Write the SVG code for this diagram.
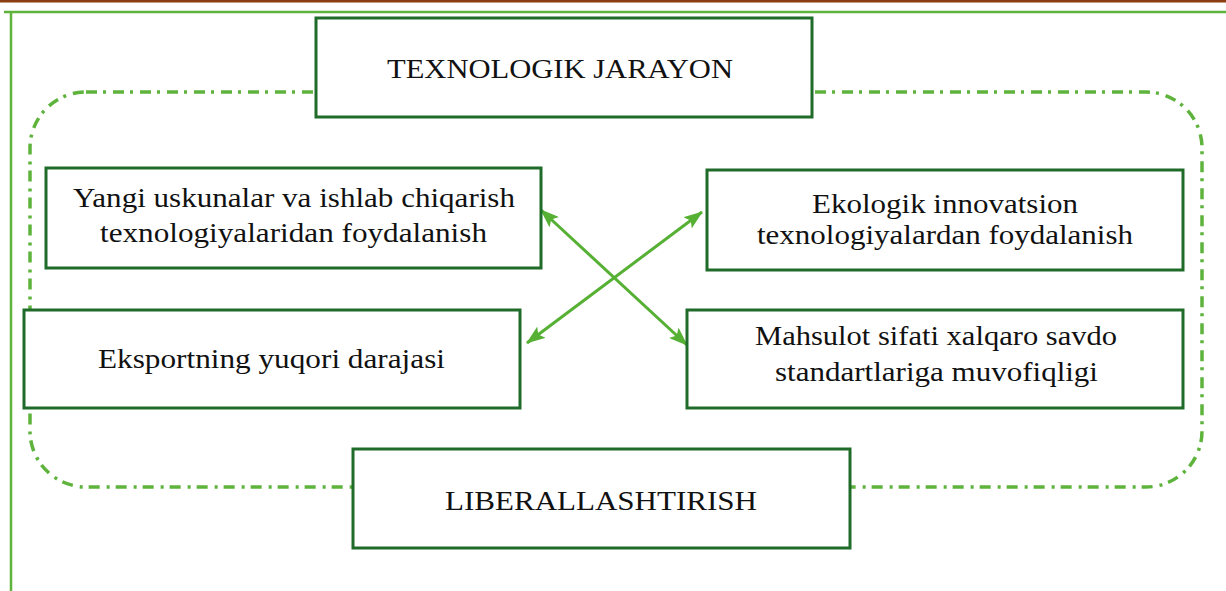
<svg xmlns="http://www.w3.org/2000/svg" width="1226" height="591" viewBox="0 0 1226 591">
  <style>
    .box { fill: #ffffff; stroke: #1f6b2a; stroke-width: 3; }
    .t { font-family: "Liberation Serif", "Times New Roman", serif; font-size: 27px; fill: #111111; text-anchor: start; }
    .conn { stroke: #55b034; stroke-width: 3; fill: none; }
  </style>
  <defs>
    <marker id="arr" viewBox="0 0 19 14" refX="18" refY="7" markerWidth="19" markerHeight="14" markerUnits="userSpaceOnUse" orient="auto-start-reverse">
      <path d="M0,0 L19,7 L0,14 L4,7 Z" fill="#55b034"/>
    </marker>
  </defs>
  <rect width="1226" height="591" fill="#ffffff"/>
  <rect x="0" y="0" width="1226" height="2.5" fill="#8a3d10"/>
  <g id="frame">
    <path d="M4,12 H1226 M11,12 V591" stroke="#5db33b" stroke-width="2.5" fill="none"/>
  </g>
  <g id="boundary">
    <rect x="30" y="92" width="1172" height="395" rx="56" ry="56" fill="none" stroke="#5db33b" stroke-width="3.5" stroke-dasharray="11 6 3 7"/>
  </g>
  <g id="connectors">
    <line class="conn" x1="541" y1="210" x2="687" y2="345" marker-start="url(#arr)" marker-end="url(#arr)"/>
    <line class="conn" x1="702" y1="212" x2="527" y2="343" marker-start="url(#arr)" marker-end="url(#arr)"/>
  </g>
  <g id="n-texnologik">
    <rect class="box" x="316" y="18" width="496" height="99"/>
    <text class="t" x="387" y="78" textLength="346" lengthAdjust="spacingAndGlyphs">TEXNOLOGIK JARAYON</text>
  </g>
  <g id="n-yangi">
    <rect class="box" x="46" y="168" width="495" height="100"/>
    <text class="t" x="73" y="207" textLength="442" lengthAdjust="spacingAndGlyphs">Yangi uskunalar va ishlab chiqarish</text>
    <text class="t" x="100" y="242" textLength="387" lengthAdjust="spacingAndGlyphs">texnologiyalaridan foydalanish</text>
  </g>
  <g id="n-ekologik">
    <rect class="box" x="707" y="170" width="476" height="100"/>
    <text class="t" x="812" y="213" textLength="266" lengthAdjust="spacingAndGlyphs">Ekologik innovatsion</text>
    <text class="t" x="757" y="244" textLength="376" lengthAdjust="spacingAndGlyphs">texnologiyalardan foydalanish</text>
  </g>
  <g id="n-eksport">
    <rect class="box" x="24" y="310" width="496" height="98"/>
    <text class="t" x="98" y="368" textLength="347" lengthAdjust="spacingAndGlyphs">Eksportning yuqori darajasi</text>
  </g>
  <g id="n-mahsulot">
    <rect class="box" x="687" y="310" width="496" height="98"/>
    <text class="t" x="755" y="345" textLength="362" lengthAdjust="spacingAndGlyphs">Mahsulot sifati xalqaro savdo</text>
    <text class="t" x="775" y="381" textLength="323" lengthAdjust="spacingAndGlyphs">standartlariga muvofiqligi</text>
  </g>
  <g id="n-liberal">
    <rect class="box" x="353" y="449" width="497" height="99"/>
    <text class="t" x="445" y="510" textLength="312" lengthAdjust="spacingAndGlyphs">LIBERALLASHTIRISH</text>
  </g>
</svg>
